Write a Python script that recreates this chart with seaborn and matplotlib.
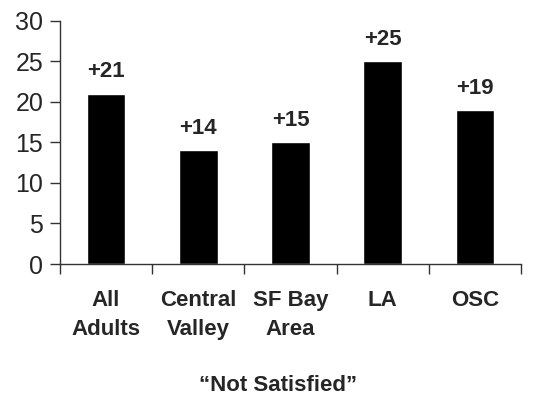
import matplotlib
matplotlib.use("Agg")
import matplotlib.pyplot as plt
import seaborn as sns
import pandas as pd
from matplotlib.ticker import FixedLocator, NullFormatter

# Data
regions = ["All\nAdults", "Central\nValley", "SF Bay\nArea", "LA", "OSC"]
values = [21, 14, 15, 25, 19]
value_labels = ["+21", "+14", "+15", "+25", "+19"]
yticks = [0, 5, 10, 15, 20, 25, 30]

sns.set_theme(style="white")
plt.rcParams["font.family"] = ["Liberation Sans", "DejaVu Sans"]

df = pd.DataFrame({"region": regions, "value": values})

fig = plt.figure(figsize=(5.48, 3.95), dpi=100)
ax = fig.add_axes([0.1095, 0.3316, 0.8412, 0.6164])

sns.barplot(data=df, x="region", y="value", color="black", width=0.42,
            saturation=1, ax=ax)

ax.set_ylim(0, 30)
ax.set_xlim(-0.5, len(regions) - 0.5)
ax.set_yticks(yticks)
ax.tick_params(axis="y", labelsize=18, length=7, width=1, color="#333333",
               direction="out", pad=5, left=True)

# Category boundaries as major ticks, labels on minor ticks at bar centers
ax.xaxis.set_major_locator(FixedLocator([i - 0.5 for i in range(len(regions) + 1)]))
ax.xaxis.set_major_formatter(NullFormatter())
ax.xaxis.set_minor_locator(FixedLocator(range(len(regions))))
ax.set_xticklabels(regions, minor=True, fontsize=16, fontweight="bold",
                   linespacing=1.5)
ax.tick_params(axis="x", which="minor", length=0, pad=19)
ax.tick_params(axis="x", which="major", length=7, width=1, color="#333333",
               direction="out", bottom=True)

for side in ["top", "right"]:
    ax.spines[side].set_visible(False)
for side in ["left", "bottom"]:
    ax.spines[side].set_color("#333333")
    ax.spines[side].set_linewidth(1)

for i, (v, lab) in enumerate(zip(values, value_labels)):
    ax.annotate(lab, xy=(i, v), xytext=(0, 8), textcoords="offset points",
                ha="center", va="bottom", fontsize=16, fontweight="bold")

ax.set_xlabel("\u201cNot Satisfied\u201d", fontsize=16, fontweight="bold")
ax.xaxis.set_label_coords(0.473, -0.455)
ax.set_ylabel("")

fig.savefig("out.png", dpi=100)
